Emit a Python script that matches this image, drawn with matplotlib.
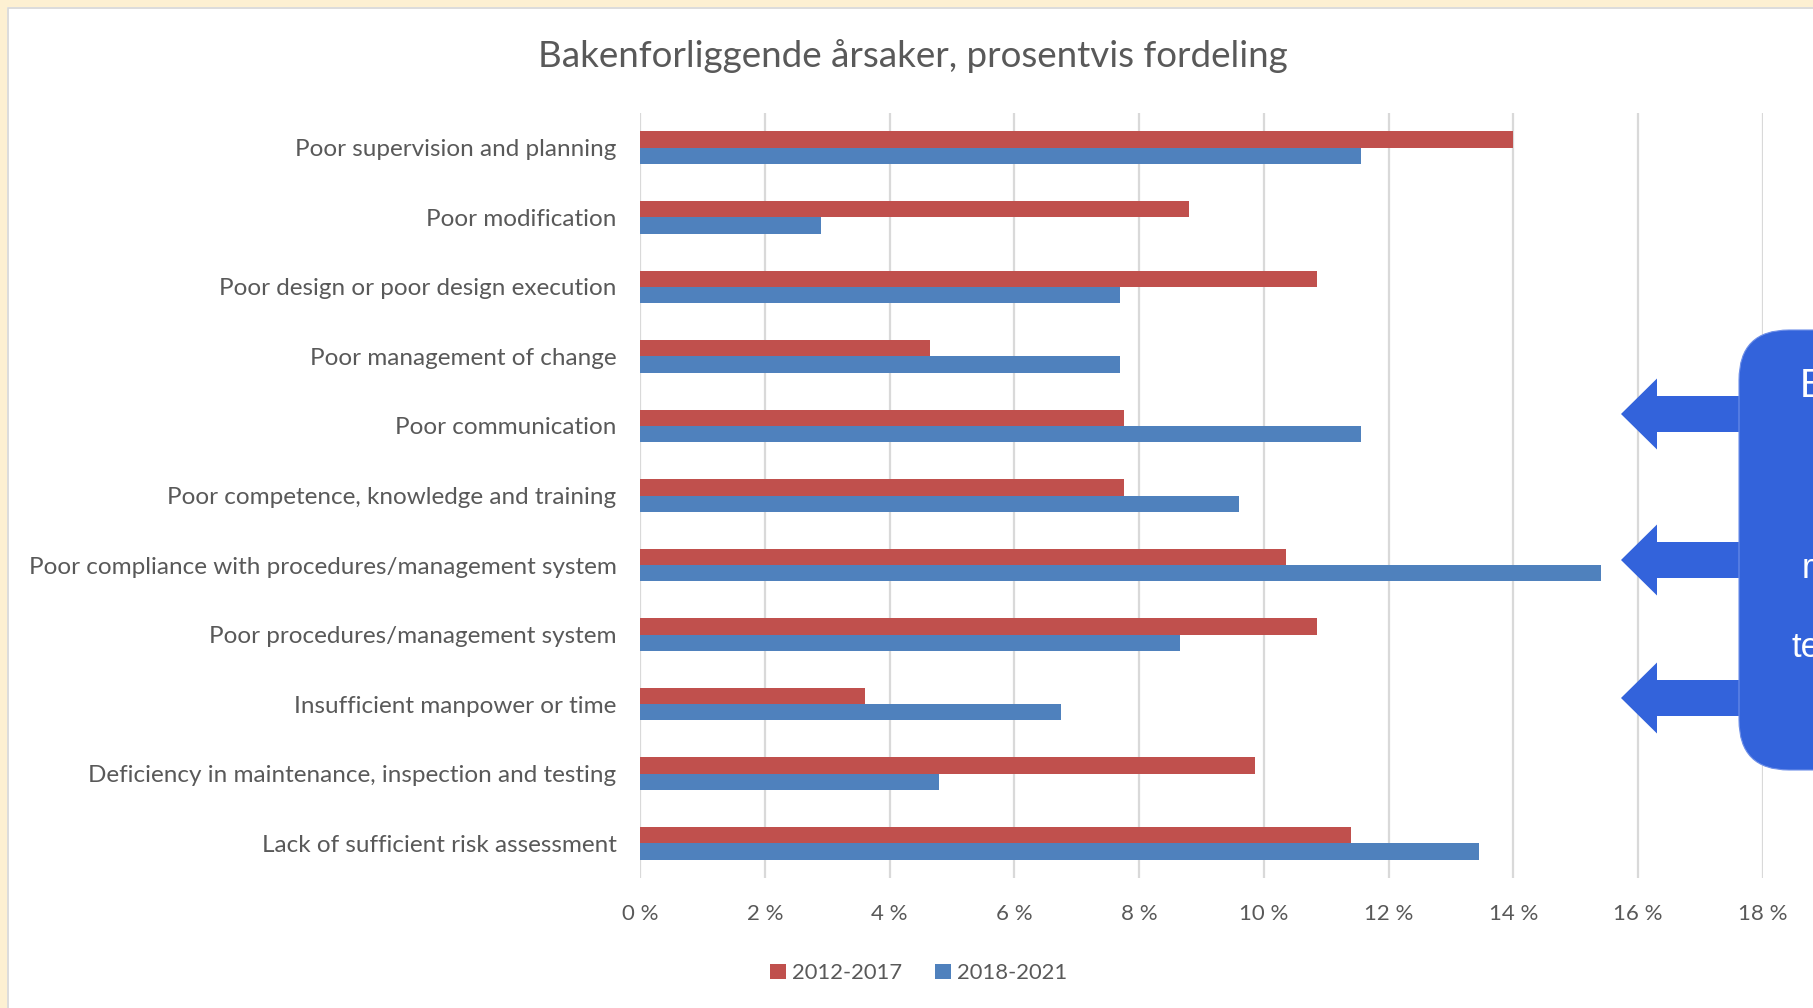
import matplotlib.pyplot as plt
import numpy as np
from matplotlib.patches import FancyBboxPatch, Polygon, Rectangle
from matplotlib.transforms import IdentityTransform

categories = ['Poor supervision and planning',
              'Poor modification',
              'Poor design or poor design execution',
              'Poor management of change',
              'Poor communication',
              'Poor competence, knowledge and training',
              'Poor compliance with procedures/management system',
              'Poor procedures/management system',
              'Insufficient manpower or time',
              'Deficiency in maintenance, inspection and testing',
              'Lack of sufficient risk assessment']
p2012_2017 = [14.0, 8.8, 10.85, 4.65, 7.75, 7.75, 10.35, 10.85, 3.6, 9.85, 11.4]
p2018_2021 = [11.55, 2.9, 7.7, 7.7, 11.55, 9.6, 15.4, 8.65, 6.75, 4.8, 13.45]
xticks = [0, 2, 4, 6, 8, 10, 12, 14, 16, 18]
series_names = ['2012-2017', '2018-2021']

# callout decoration (pixel positions on the slide)
arrow_rows = [414, 560, 698]
callout_letters = [('B', 1800, 397, 29), ('r', 1802, 578, 25), ('te', 1791, 657, 25)]

W, H = 1813, 1008
RED = '#C0504D'
BLUE = '#4F81BD'
GREY = '#595959'
CALLOUT = '#3363DB'
CREAM = '#FDF0D2'
FONT = ['Lato', 'DejaVu Sans']

plt.rcParams['font.family'] = FONT

fig = plt.figure(figsize=(W / 100, H / 100), dpi=100)
fig.patch.set_facecolor('white')

ax = fig.add_axes([640 / W, 1 - 878 / H, (1763 - 640) / W, (878 - 113) / H])
ax.set_facecolor('none')

y = np.arange(len(categories))
h = 0.235
ax.barh(y - h / 2, p2012_2017, height=h, color=RED, label=series_names[0], zorder=3)
ax.barh(y + h / 2, p2018_2021, height=h, color=BLUE, label=series_names[1], zorder=3)

ax.set_xlim(0, 18)
ax.set_ylim(len(categories) - 0.5, -0.5)
ax.set_xticks(xticks)
ax.set_xticklabels(['%d %%' % t for t in xticks])
ax.set_yticks(y)
ax.set_yticklabels(categories)
ax.grid(axis='x', color='#D9D9D9', lw=1.6, zorder=0)
for s in ax.spines.values():
    s.set_visible(False)
ax.tick_params(axis='y', length=0, pad=17, labelsize=17.5, labelcolor=GREY)
ax.tick_params(axis='x', length=0, pad=19, labelsize=16, labelcolor=GREY)

fig.text(913 / W, 1 - 56 / H, 'Bakenforliggende årsaker, prosentvis fordeling',
         ha='center', va='center', fontsize=26.5, color=GREY)

fig.legend(loc='center', bbox_to_anchor=(919 / W, 1 - 973 / H), ncol=2, frameon=False,
           fontsize=15.8, labelcolor=GREY, handlelength=0.7, handleheight=0.7,
           handletextpad=0.3, columnspacing=1.5)

# cream frame on top and left edge of the slide
ident = IdentityTransform()
fig.patches.append(Rectangle((0, H - 7), W, 7, transform=ident,
                             facecolor=CREAM, edgecolor='none', zorder=10))
fig.patches.append(Rectangle((0, 0), 7, H, transform=ident,
                             facecolor=CREAM, edgecolor='none', zorder=10))
fig.patches.append(Polygon([(7.5, 0), (7.5, H - 7.5), (W, H - 7.5)], closed=False,
                           transform=ident, fill=False, edgecolor='#D6D6D6',
                           lw=1.2, zorder=10))

# callout box with arrows pointing at the chart
for cy in arrow_rows:
    yy = H - cy
    pts = [(1621, yy), (1657, yy + 35.5), (1657, yy + 18), (1760, yy + 18),
           (1760, yy - 18), (1657, yy - 18), (1657, yy - 35.5)]
    fig.patches.append(Polygon(pts, closed=True, transform=ident,
                               facecolor=CALLOUT, edgecolor='none', zorder=5))
fig.patches.append(FancyBboxPatch((1739, H - 770), 200, 440,
                                  boxstyle='round,pad=0,rounding_size=50',
                                  transform=ident, facecolor=CALLOUT,
                                  edgecolor='#6E8FE8', lw=0.8, zorder=6))
for txt, px, py, fs in callout_letters:
    fig.text(px / W, 1 - py / H, txt, ha='left', va='baseline', fontsize=fs,
             color='white', family=['Liberation Sans', 'DejaVu Sans'], zorder=7)

fig.savefig('out.png', dpi=100)
